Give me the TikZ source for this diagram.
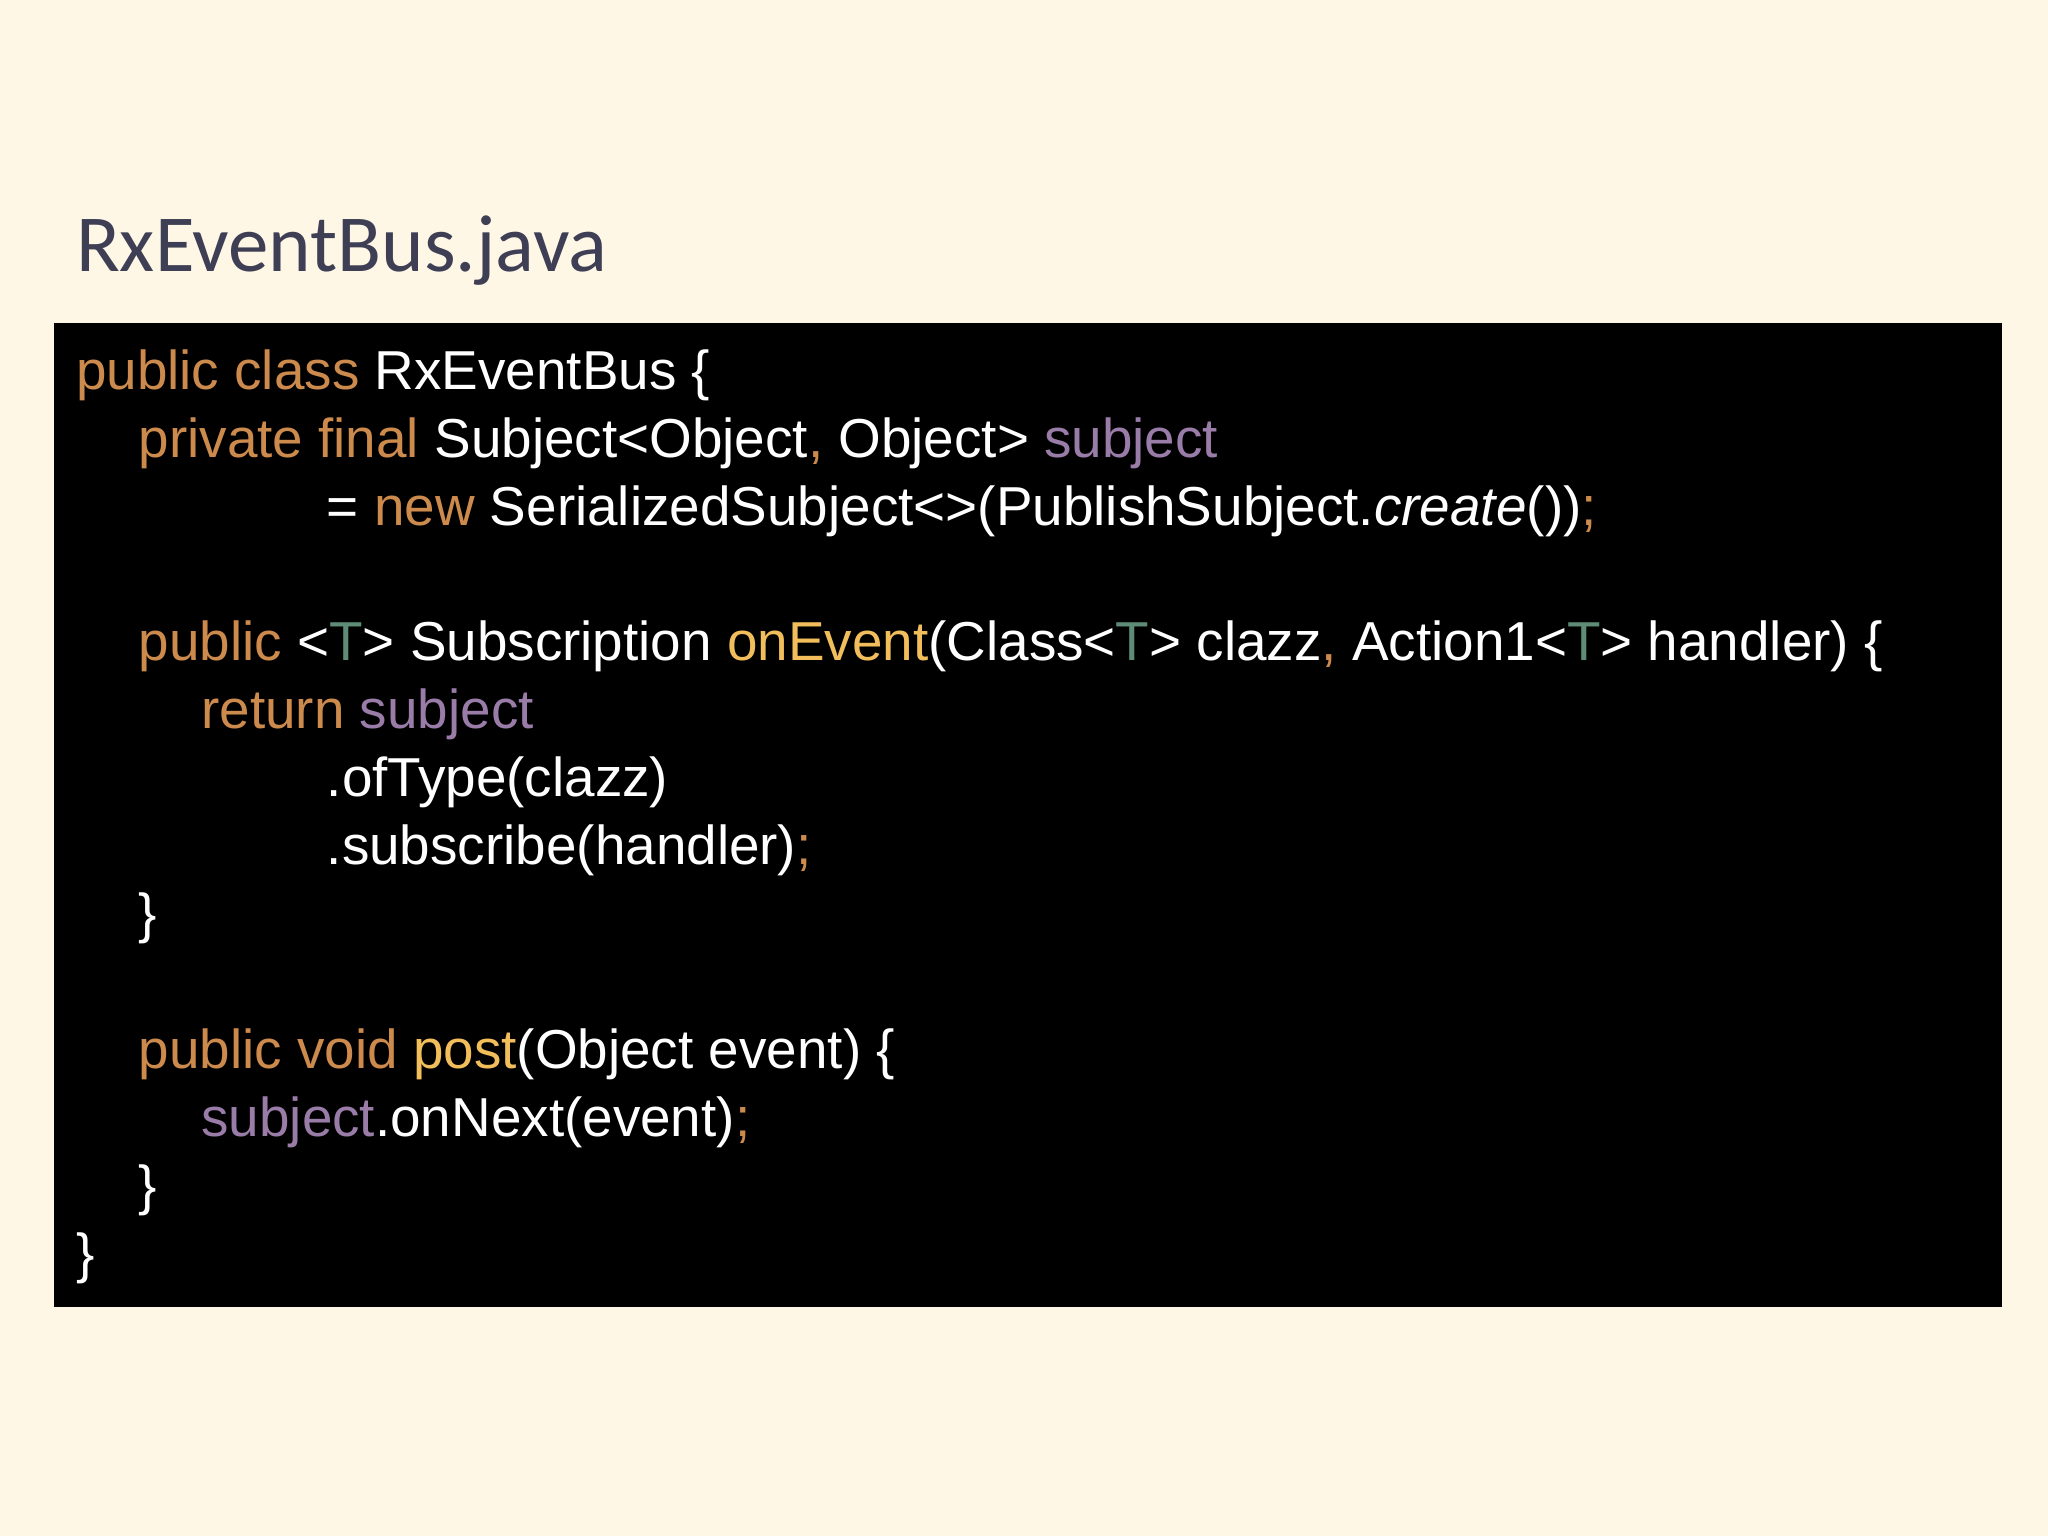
\documentclass[tikz,border=0pt]{standalone}
\usepackage{fontspec}
\setmainfont{Liberation Sans}
\newfontfamily\titlefont{Carlito}
\definecolor{bg}{HTML}{FFF7E6}
\definecolor{kw}{HTML}{CC8A4C}
\definecolor{fn}{HTML}{F2BE5C}
\definecolor{pu}{HTML}{9A7CA8}
\definecolor{gr}{HTML}{5E8C76}
\definecolor{tt}{HTML}{3E3F55}
\newcommand{\Kw}[1]{\textcolor{kw}{#1}}
\newcommand{\Fn}[1]{\textcolor{fn}{#1}}
\newcommand{\Pu}[1]{\textcolor{pu}{#1}}
\newcommand{\Gr}[1]{\textcolor{gr}{#1}}
\begin{document}
\begin{tikzpicture}[x=1pt,y=-1pt,
  code/.style={anchor=base west,inner sep=0pt,text=white,font=\fontsize{42}{50}\selectfont}]
\fill[bg] (0,0) rectangle (1568,1176);
\useasboundingbox (0,0) rectangle (1568,1176);
\node[anchor=base west,inner sep=0pt,text=tt,font=\titlefont\fontsize{62}{70}\selectfont] (title) at (58,208) {RxEventBus.java};
\fill[black] (41,247) rectangle (1533,1001);
\node[code] (l1) at (58,298) {\Kw{public class} RxEventBus \{};
\node[code] (l2) at (106,350) {\Kw{private final} Subject<Object\Kw{,} Object> \Pu{subject}};
\node[code] (l3) at (250,402) {= \Kw{new} SerializedSubject<>(PublishSubject.\textit{create}())\Kw{;}};
\node[code] (l4) at (106,506) {\Kw{public} <\Gr{T}> Subscription \Fn{onEvent}(Class<\Gr{T}> clazz\Kw{,} Action1<\Gr{T}> handler) \{};
\node[code] (l5) at (154,558) {\Kw{return} \Pu{subject}};
\node[code] (l6) at (250,610) {.ofType(clazz)};
\node[code] (l7) at (250,662) {.subscribe(handler)\Kw{;}};
\node[code] (l8) at (106,714) {\}};
\node[code] (l9) at (106,818) {\Kw{public void} \Fn{post}(Object event) \{};
\node[code] (l10) at (154,870) {\Pu{subject}.onNext(event)\Kw{;}};
\node[code] (l11) at (106,922) {\}};
\node[code] (l12) at (58,974) {\}};
\end{tikzpicture}
\end{document}
